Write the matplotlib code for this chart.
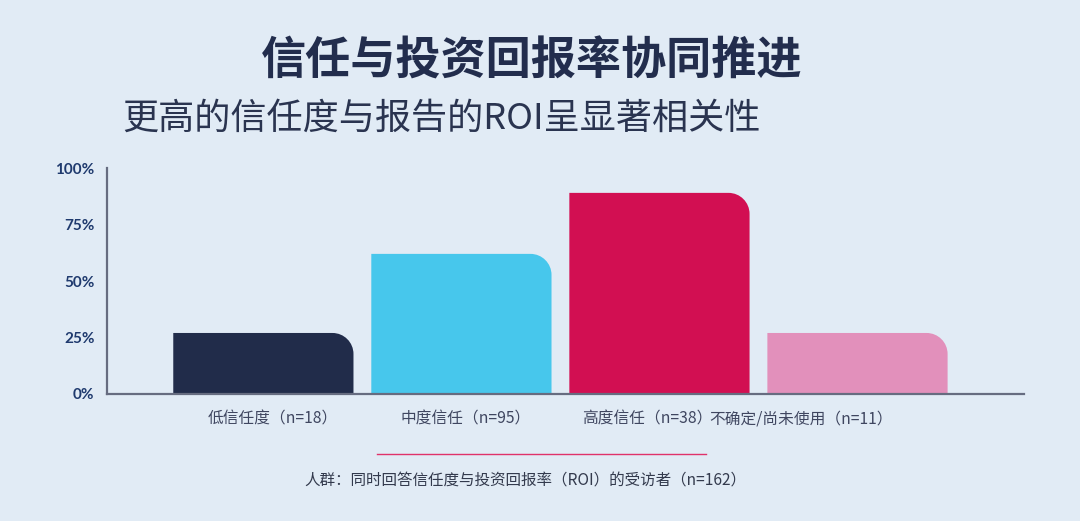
import numpy as np
import matplotlib.pyplot as plt
from matplotlib.path import Path
from matplotlib.patches import PathPatch

plt.rcParams['font.family'] = ['Noto Sans CJK SC', 'DejaVu Sans']

# data
categories = ['低信任度（n=18）', '中度信任（n=95）', '高度信任（n=38）', '不确定/尚未使用（n=11）']
values = [27, 62, 89, 27]
colors = ['#212C4A', '#47C7EC', '#D20F52', '#E290BB']
yticks = [0, 25, 50, 75, 100]
ytick_labels = ['0%', '25%', '50%', '75%', '100%']
label_x = [-0.28, 0.69, 1.61, 2.25]   # left edge of each category label

bg = '#E1EBF5'
fig = plt.figure(figsize=(10.8, 5.21), dpi=100, facecolor=bg)
ax = fig.add_axes([0.099, 0.2438, 0.849, 0.4337], facecolor=bg)

x = np.arange(len(values))
width = 0.91
rx, ry = 0.106, 9.3  # corner radius in data units (~21px)
k = 0.5523

for xi, v, c in zip(x, values, colors):
    x0, x1 = xi - width / 2, xi + width / 2
    verts = [(x0, 0), (x1, 0), (x1, v - ry),
             (x1, v - ry + k * ry), (x1 - rx + k * rx, v), (x1 - rx, v),
             (x0, v), (x0, 0)]
    codes = [Path.MOVETO, Path.LINETO, Path.LINETO,
             Path.CURVE4, Path.CURVE4, Path.CURVE4,
             Path.LINETO, Path.CLOSEPOLY]
    ax.add_patch(PathPatch(Path(verts, codes), facecolor=c, edgecolor='none'))

ax.set_xlim(-0.79, 3.84)
ax.set_ylim(0, 100)
ax.set_yticks(yticks)
ax.set_yticklabels(ytick_labels, fontfamily='Lato', fontweight='bold',
                   fontsize=11, color='#1F3A6E')
ax.tick_params(axis='y', length=0, pad=9)
ax.set_xticks([])
for s in ['top', 'right']:
    ax.spines[s].set_visible(False)
for s in ['left', 'bottom']:
    ax.spines[s].set_color('#666C80')
    ax.spines[s].set_linewidth(1.6)

for lx, lab in zip(label_x, categories):
    ax.text(lx, -7.5, lab, ha='left', va='top', fontsize=11.3,
            color='#3F4660', transform=ax.transData)

# titles
fig.text(0.492, 0.881, '信任与投资回报率协同推进', ha='center', va='center',
         fontsize=32.5, fontweight='bold', color='#222D4D')
fig.text(0.113, 0.772, '更高的信任度与报告的ROI呈显著相关性', ha='left', va='center',
         fontsize=26, fontweight='light', color='#2A3450')

# separator and footnote
fig.add_artist(plt.Line2D([377 / 1080, 706 / 1080], [1 - 454 / 521, 1 - 454 / 521],
                          color='#E0326A', linewidth=1.0))
fig.text(0.486, 1 - 481 / 521, '人群：同时回答信任度与投资回报率（ROI）的受访者（n=162）',
         ha='center', va='center', fontsize=11.2, color='#333A4D')

fig.savefig('out.png', dpi=100, facecolor=bg)
